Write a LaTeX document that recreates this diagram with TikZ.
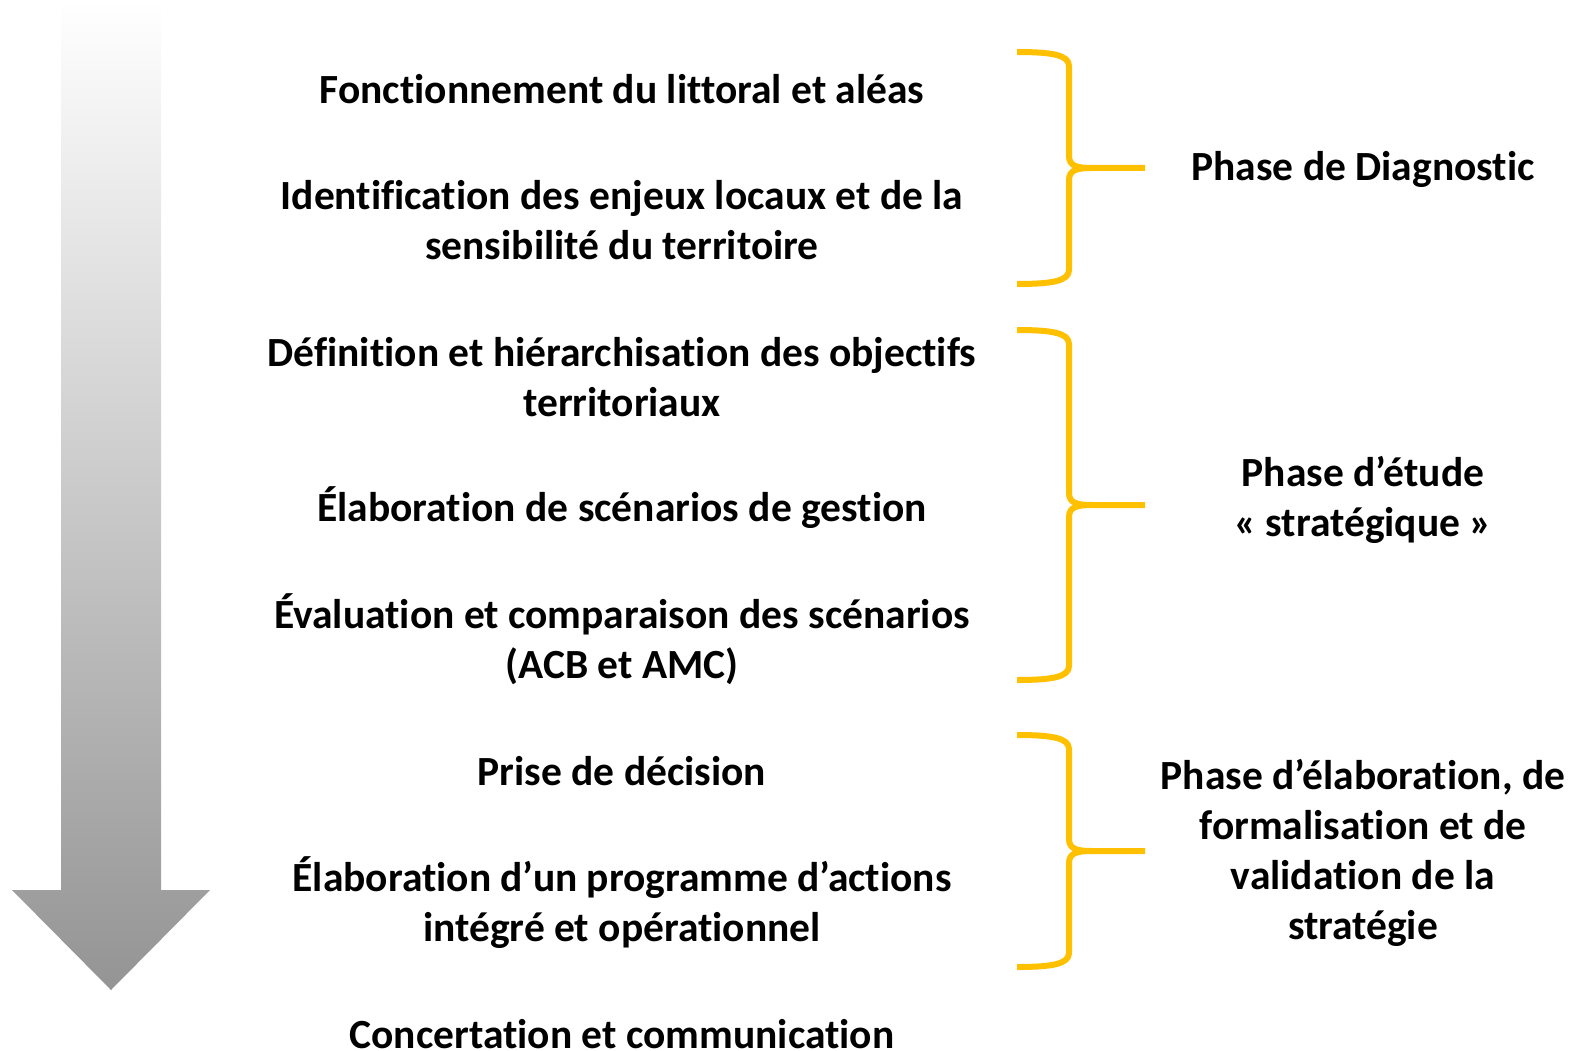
\documentclass[tikz,border=0pt]{standalone}
\usepackage{fontspec}
\setmainfont{Carlito}[Ligatures={NoCommon}]
\definecolor{gold}{HTML}{FFC000}
\definecolor{arrowgray}{RGB}{148,148,148}
\tikzset{
  txt/.style={font=\fontsize{41.5}{50}\selectfont\bfseries, align=center, inner sep=0pt, text=black},
  bracepath/.style={draw=gold, line width=6pt, line cap=butt, line join=round},
}
\begin{document}
\begin{tikzpicture}[x=1pt,y=-1pt]
\clip (0,0) rectangle (1574,1051);
\useasboundingbox (0,0) rectangle (1574,1051);
% arrow
\shade[top color=white, bottom color=arrowgray]
  (61,0) -- (161,0) -- (161,890) -- (210,890) -- (111,990) -- (12,890) -- (61,890) -- cycle;
% left texts
\node[txt] (t1) at (622,89) {Fonctionnement du littoral et aléas};
\node[txt] (t2) at (622,220) {Identification des enjeux locaux et de la\\sensibilité du territoire};
\node[txt] (t3) at (622,377) {Définition et hiérarchisation des objectifs\\territoriaux};
\node[txt] (t4) at (622,508) {Élaboration de scénarios de gestion};
\node[txt] (t5) at (622,639) {Évaluation et comparaison des scénarios\\(ACB et AMC)};
\node[txt] (t6) at (622,771) {Prise de décision};
\node[txt] (t7) at (622,903) {Élaboration d’un programme d’actions\\intégré et opérationnel};
\node[txt] (t8) at (622,1034) {Concertation et communication};
% right texts
\node[txt] (p1) at (1363,169) {Phase de Diagnostic};
\node[txt] (p2) at (1363,500) {Phase d’étude\\«~stratégique~»};
\node[txt] (p3) at (1363,853) {Phase d’élaboration, de\\formalisation et de\\validation de la\\stratégie};
% braces
\foreach \nm/\top/\mid/\bot in {b1/52/168/284, b2/330/505/680, b3/735/851/967}{
  \coordinate (\nm tip) at (1145,\mid);
  \draw[bracepath] (1017,\top) .. controls (1052,\top) and (1069,\top+3) .. (1069,\top+14)
     -- (1069,\mid-12) .. controls (1069,\mid-2) and (1077,\mid) .. (1092,\mid) -- (\nm tip);
  \draw[bracepath] (1017,\bot) .. controls (1052,\bot) and (1069,\bot-3) .. (1069,\bot-14)
     -- (1069,\mid+12) .. controls (1069,\mid+2) and (1077,\mid) .. (1092,\mid);
}
\end{tikzpicture}
\end{document}
